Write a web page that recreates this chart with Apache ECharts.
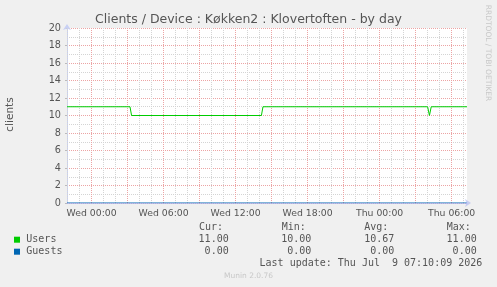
<!DOCTYPE html>
<html>
<head>
<meta charset="utf-8">
<script src="https://cdn.jsdelivr.net/npm/echarts@6/dist/echarts.min.js"></script>
<style>
  html, body { margin: 0; padding: 0; background: #f0f0f0; }
  #chart { width: 497px; height: 287px; }
</style>
</head>
<body>
<div id="chart"></div>
<script>
// hours counted from Wed 00:00
const startHour = -2.05;
const endHour = 31.28;

const labelHours = [0, 6, 12, 18, 24, 30];
const labelTexts = ["Wed 00:00", "Wed 06:00", "Wed 12:00", "Wed 18:00", "Thu 00:00", "Thu 06:00"];
const majorGridHours = [0, 3, 6, 9, 12, 15, 18, 21, 24, 27, 30];
const minorGridHours = [-2, -1, 1, 2, 4, 5, 7, 8, 10, 11, 13, 14, 16, 17, 19, 20, 22, 23, 25, 26, 28, 29, 31];

const userHours = [-2.05, 3.2, 3.33, 14.15, 14.28, 28.0, 28.15, 28.3, 31.28];
const userValues = [11, 11, 10, 10, 11, 11, 10, 11, 11];
const guestHours = [-2.05, 31.28];
const guestValues = [0, 0];

const seriesNames = ["Users", "Guests"];
const seriesColors = ["#00cc00", "#0066b3"];
const curValues = ["11.00", "0.00"];
const minValues = ["10.00", "0.00"];
const avgValues = ["10.67", "0.00"];
const maxValues = ["11.00", "0.00"];

const chart = echarts.init(document.getElementById("chart"), null, { renderer: "canvas" });

const mono = "DejaVu Sans Mono";
const sans = "DejaVu Sans";
const majorColor = "#eca4a4";
const minorColor = "#d4d4d4";

function pairs(xs, ys) {
  return xs.map((x, i) => [x, ys[i]]);
}

const legendRows = [239.7, 251.7];
const legendGraphics = [];
// column headers
[["Cur:", 199], ["Min:", 281.7], ["Avg:", 364.3], ["Max:", 446.7]].forEach(([t, x]) => {
  legendGraphics.push({
    type: "text", x: x, y: 227.7,
    style: { text: t, font: "10px " + mono, fill: "#555", textVerticalAlign: "middle" },
  });
});
seriesNames.forEach((name, i) => {
  const y = legendRows[i];
  legendGraphics.push({
    type: "rect", shape: { x: 14, y: y - 3, width: 6, height: 6 },
    style: { fill: seriesColors[i] },
  });
  legendGraphics.push({
    type: "text", x: 26.3, y: y,
    style: { text: name, font: "10px " + mono, fill: "#555", textVerticalAlign: "middle" },
  });
  [[curValues, 228.7], [minValues, 311.3], [avgValues, 394.3], [maxValues, 476.7]].forEach(([vals, x]) => {
    legendGraphics.push({
      type: "text", x: x, y: y,
      style: { text: vals[i], font: "10px " + mono, fill: "#555", textAlign: "right", textVerticalAlign: "middle" },
    });
  });
});

const option = {
  backgroundColor: "#f0f0f0",
  animation: false,
  grid: {
    left: 67, right: 30, top: 28, bottom: 84,
    show: true, backgroundColor: "#ffffff", borderWidth: 0,
  },
  xAxis: {
    type: "value",
    min: startHour,
    max: endHour,
    zlevel: 1,
    z: 5,
    axisLine: {
      show: true,
      onZero: false,
      symbol: ["none", "arrow"],
      symbolSize: [6, 6],
      symbolOffset: [0, 4],
      lineStyle: { color: "rgba(170,180,240,0.6)", width: 1 },
    },
    axisTick: { show: false },
    splitLine: { show: false },
    axisLabel: {
      customValues: labelHours,
      formatter: (v) => labelTexts[labelHours.indexOf(v)] || "",
      color: "#555",
      fontFamily: sans,
      fontSize: 9.3,
      margin: 6,
    },
  },
  yAxis: {
    type: "value",
    min: 0,
    max: 20,
    interval: 2,
    axisLine: {
      show: true,
      onZero: false,
      symbol: ["none", "arrow"],
      symbolSize: [6, 6],
      symbolOffset: [0, 4],
      lineStyle: { color: "#c8d0f4", width: 1 },
    },
    axisTick: { show: true, length: 2, lineStyle: { color: "#bbb" } },
    axisLabel: { color: "#555", fontFamily: sans, fontSize: 9.7, margin: 6 },
    splitLine: { show: true, lineStyle: { color: majorColor, type: [1, 1], width: 1 } },
    minorTick: { show: false, splitNumber: 2 },
    minorSplitLine: { show: true, lineStyle: { color: minorColor, type: [1, 1], width: 1 } },
  },
  series: [
    {
      name: "grid",
      type: "line",
      data: [],
      silent: true,
      z: 1,
      markLine: {
        silent: true,
        symbol: "none",
        label: { show: false },
        data: minorGridHours.map((h) => ({ xAxis: h, lineStyle: { color: minorColor, type: [1, 1], width: 1 } }))
          .concat(majorGridHours.map((h) => ({ xAxis: h, lineStyle: { color: majorColor, type: [1, 1], width: 1 } }))),
      },
    },
    {
      name: "Guests",
      type: "line",
      data: pairs(guestHours, guestValues),
      showSymbol: false,
      lineStyle: { color: seriesColors[1], width: 1 },
      zlevel: 1,
      z: 3,
    },
    {
      name: "Users",
      type: "line",
      data: pairs(userHours, userValues),
      showSymbol: false,
      lineStyle: { color: seriesColors[0], width: 1 },
      zlevel: 1,
      z: 6,
    },
  ],
  graphic: [
    {
      type: "text", x: 248.5, y: 19.5,
      style: {
        text: "Clients / Device : Køkken2 : Klovertoften - by day",
        font: "12.5px " + sans, fill: "#555", textAlign: "center", textVerticalAlign: "middle",
      },
    },
    {
      type: "text", x: 10.5, y: 114.5, rotation: Math.PI / 2,
      style: { text: "clients", font: "10.5px " + sans, fill: "#555", textAlign: "center", textVerticalAlign: "middle" },
    },
    {
      type: "text", x: 487.5, y: 53, rotation: -Math.PI / 2,
      style: { text: "RRDTOOL / TOBI OETIKER", font: "7.5px " + sans, fill: "#c8c8c8", textAlign: "center", textVerticalAlign: "middle" },
    },
    {
      type: "text", x: 482.3, y: 263.3,
      style: { text: "Last update: Thu Jul  9 07:10:09 2026", font: "10px " + mono, fill: "#555", textAlign: "right", textVerticalAlign: "middle" },
    },
    {
      type: "text", x: 248.5, y: 276,
      style: { text: "Munin 2.0.76", font: "7.5px " + sans, fill: "#c8c8c8", textAlign: "center", textVerticalAlign: "middle" },
    },
  ].concat(legendGraphics),
};

chart.setOption(option);
</script>
</body>
</html>
